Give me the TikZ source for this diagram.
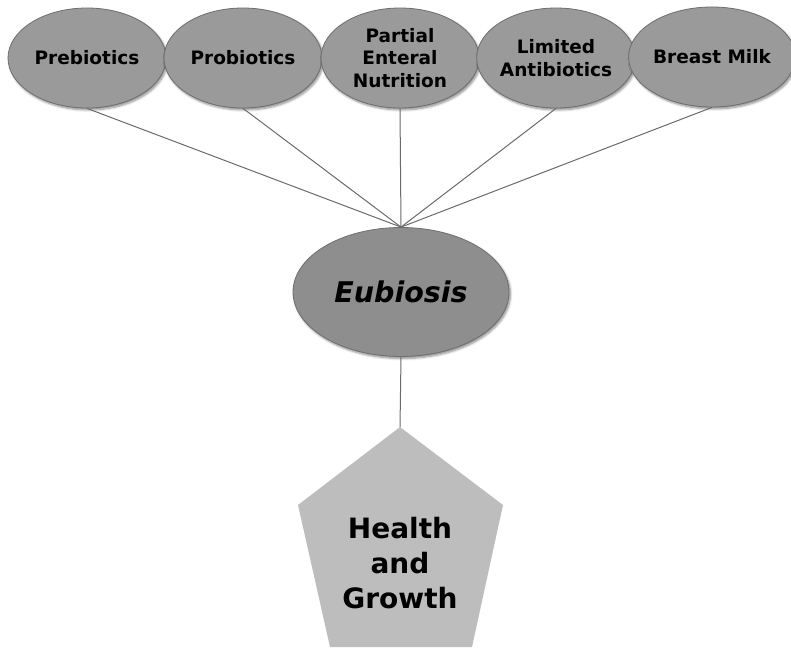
\documentclass[tikz,border=0pt]{standalone}
\usepackage{fontspec}
\setmainfont{DejaVu Sans}
\usetikzlibrary{shapes.geometric,shadows.blur}
\definecolor{ovalfill}{HTML}{9A9A9A}
\definecolor{hubfill}{HTML}{8E8E8E}
\definecolor{goalfill}{HTML}{BDBDBD}
\definecolor{rim}{HTML}{6E6E6E}
\definecolor{wire}{HTML}{6A6A6A}
\begin{document}
\begin{tikzpicture}[x=1pt,y=-1pt,
  factor/.style={ellipse, fill=ovalfill, draw=rim, line width=0.8pt,
    minimum width=158pt, minimum height=100pt, inner sep=0pt,
    align=center, font=\bfseries\fontsize{18.5}{22.5}\selectfont,
    blur shadow={shadow xshift=1.5pt, shadow yshift=-2pt, shadow blur steps=6, shadow opacity=45}},
  hub/.style={ellipse, fill=hubfill, draw=rim, line width=0.8pt,
    minimum width=216pt, minimum height=129pt, inner sep=0pt,
    font=\bfseries\itshape\fontsize{28.5}{34}\selectfont,
    blur shadow={shadow xshift=1.5pt, shadow yshift=-2pt, shadow blur steps=6, shadow opacity=45}},
  link/.style={draw=wire, line width=1pt},
  goaltext/.style={align=center, font=\bfseries\fontsize{28}{35}\selectfont}]
\useasboundingbox (0,0) rectangle (791,647);

% goal pentagon (stretched vertically)
\fill[goalfill] (400,427) -- (503,505) -- (472,647) -- (330,647) -- (298,505) -- cycle;
\node[goaltext] (goal) at (400,563) {Health\\and\\Growth};
\coordinate (goaltop) at (400,427);

% contributing factors
\node[factor] (pre)  at (87,58)  {Prebiotics};
\node[factor] (pro)  at (243,58) {Probiotics};
\node[factor] (pen)  at (400,58) {Partial\\Enteral\\Nutrition};
\node[factor] (abx)  at (556,58) {Limited\\Antibiotics};
\node[factor] (milk) at (712,57) {Breast Milk};

% central state
\node[hub] (eub) at (401,292) {Eubiosis};

% connectors
\foreach \n in {pre,pro,pen,abx,milk}
  \draw[link] (\n.south) -- (eub.north);
\draw[link] (eub.south) -- (goaltop);
\end{tikzpicture}
\end{document}
